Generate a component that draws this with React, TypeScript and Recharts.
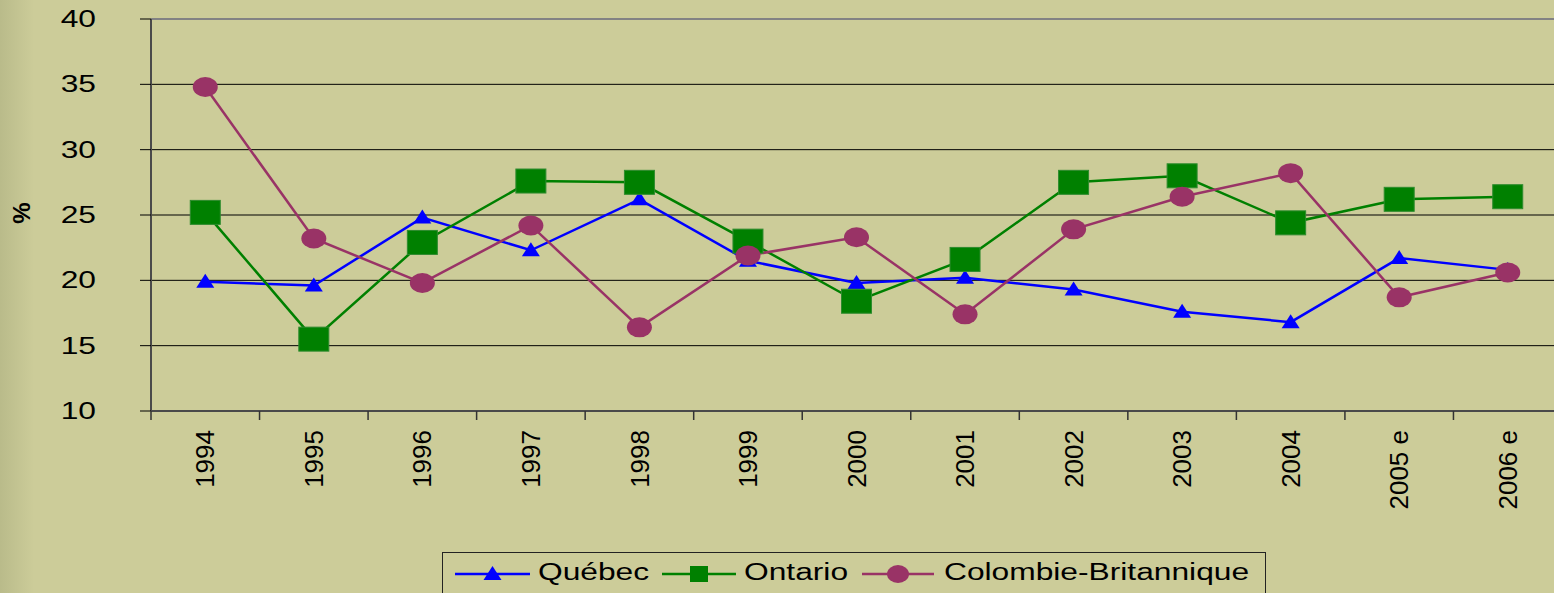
import React from "react";
import {
  LineChart,
  Line,
  XAxis,
  YAxis,
  CartesianGrid,
  ReferenceLine,
} from "recharts";

const YEARS = ["1994", "1995", "1996", "1997", "1998", "1999", "2000", "2001", "2002", "2003", "2004", "2005 e", "2006 e"];
const QUEBEC = [19.9, 19.6, 24.8, 22.3, 26.2, 21.5, 19.8, 20.2, 19.3, 17.6, 16.8, 21.7, 20.8];
const ONTARIO = [25.2, 15.5, 22.9, 27.6, 27.5, 23.0, 18.4, 21.6, 27.5, 28.0, 24.4, 26.2, 26.4];
const COLOMBIE = [34.8, 23.2, 19.8, 24.2, 16.4, 21.9, 23.3, 17.4, 23.9, 26.4, 28.2, 18.7, 20.6];
const Y_TICKS = [10, 15, 20, 25, 30, 35, 40];

const COLOURS = {
  quebec: "#0000FF",
  ontario: "#008000",
  colombie: "#993366",
};

const FONT = '"Liberation Sans", Arial, sans-serif';
const BG = "#CCCC99";

// layout of the (slightly cropped) original slide
const W = 1562;
const H = 593;
const YAXIS_W = 151;
const TOP = 19;
const PLOT_H = 392;
const XAXIS_H = H - TOP - PLOT_H;
const BAND = (W - YAXIS_W) / YEARS.length;
const STRETCH = 1.38; // the slide text is stretched sideways

const rows = YEARS.map((year, i) => ({
  year,
  quebec: QUEBEC[i],
  ontario: ONTARIO[i],
  colombie: COLOMBIE[i],
}));

function Triangle({ cx, cy, fill }: { cx: number; cy: number; fill: string }) {
  return <polygon points={`${cx},${cy - 8} ${cx - 9},${cy + 6} ${cx + 9},${cy + 6}`} fill={fill} />;
}

function Square({ cx, cy, fill }: { cx: number; cy: number; fill: string }) {
  return <rect x={cx - 15} y={cy - 12} width={30} height={24} fill={fill} stroke="#2e8b2e" strokeWidth={1} />;
}

function Ellipse({ cx, cy, fill }: { cx: number; cy: number; fill: string }) {
  return <ellipse cx={cx} cy={cy} rx={12.5} ry={10} fill={fill} />;
}

const triDot = (p: any) => <Triangle key={`q${p.index}`} cx={p.cx} cy={p.cy} fill={COLOURS.quebec} />;
const sqDot = (p: any) => <Square key={`o${p.index}`} cx={p.cx} cy={p.cy} fill={COLOURS.ontario} />;
const ellDot = (p: any) => <Ellipse key={`c${p.index}`} cx={p.cx} cy={p.cy} fill={COLOURS.colombie} />;

function YTick(props: any) {
  const { x, y, payload } = props;
  return (
    <g transform={`translate(${x},${y})`}>
      <text transform={`scale(${STRETCH},1)`} textAnchor="end" dy="0.35em" fontSize={23} fontFamily={FONT} fill="#000">
        {payload.value}
      </text>
    </g>
  );
}

function XTick(props: any) {
  const { x, y, payload } = props;
  const left = x - BAND / 2;
  return (
    <g>
      <line x1={left} y1={y} x2={left} y2={y + 9} stroke="#333" strokeWidth={1.5} />
      <text
        transform={`translate(${x},${y + 19}) rotate(-90)`}
        textAnchor="end"
        dy="0.35em"
        fontSize={26}
        fontFamily={FONT}
        fill="#000"
      >
        {payload.value}
      </text>
    </g>
  );
}

const PctLabel = () => (
  <text
    transform="translate(22,213) rotate(-90)"
    textAnchor="middle"
    dy="0.35em"
    fontSize={24}
    fontWeight="bold"
    fontFamily={FONT}
    fill="#000"
  >
    %
  </text>
);

const LEGEND = [
  { name: "Québec", colour: COLOURS.quebec, x1: 12, x2: 87, mark: "tri", text: 95 },
  { name: "Ontario", colour: COLOURS.ontario, x1: 219, x2: 293, mark: "sq", text: 301 },
  { name: "Colombie-Britannique", colour: COLOURS.colombie, x1: 419, x2: 491, mark: "ell", text: 501 },
];

function LegendBox() {
  return (
    <div
      style={{
        position: "absolute",
        left: 442,
        top: 552,
        width: 824,
        height: 50,
        border: "1.5px solid #222",
        boxSizing: "border-box",
      }}
    >
      <svg width={824} height={50} style={{ display: "block" }}>
        {LEGEND.map((l) => {
          const cx = (l.x1 + l.x2) / 2;
          return (
            <g key={l.name}>
              <line x1={l.x1} y1={21} x2={l.x2} y2={21} stroke={l.colour} strokeWidth={2.5} />
              {l.mark === "tri" && <Triangle cx={cx} cy={21} fill={l.colour} />}
              {l.mark === "sq" && <rect x={cx - 9} y={13} width={18} height={16} fill={l.colour} />}
              {l.mark === "ell" && <ellipse cx={cx} cy={21} rx={11} ry={9} fill={l.colour} />}
              <text
                transform={`translate(${l.text},27) scale(${STRETCH},1)`}
                fontSize={23}
                fontFamily={FONT}
                fill="#000"
              >
                {l.name}
              </text>
            </g>
          );
        })}
      </svg>
    </div>
  );
}

export default function App() {
  return (
    <div
      style={{
        position: "absolute",
        left: 0,
        top: 0,
        width: 1554,
        height: H,
        overflow: "hidden",
        background: BG,
        fontFamily: FONT,
      }}
    >
      <div
        style={{
          position: "absolute",
          left: 0,
          top: 0,
          width: 34,
          height: H,
          background: "linear-gradient(to right, rgba(150,155,110,0.35), rgba(204,204,153,0))",
        }}
      />
      <LineChart width={W} height={H} data={rows} margin={{ top: TOP, right: 0, bottom: 0, left: 0 }}>
        <CartesianGrid vertical={false} stroke="#000" strokeWidth={1} />
        <ReferenceLine y={40} stroke="#8c8c96" strokeWidth={1.5} />
        <XAxis
          dataKey="year"
          scale="band"
          height={XAXIS_H}
          interval={0}
          tickLine={false}
          tickSize={0}
          tickMargin={0}
          axisLine={{ stroke: "#4a4a4a", strokeWidth: 2 }}
          tick={<XTick />}
        />
        <YAxis
          domain={[10, 40]}
          ticks={Y_TICKS}
          width={YAXIS_W}
          interval={0}
          tickSize={11}
          tickMargin={44}
          tickLine={{ stroke: "#000" }}
          axisLine={{ stroke: "#4a4a4a", strokeWidth: 2 }}
          tick={<YTick />}
          label={{ value: "%", content: PctLabel }}
        />
        <Line
          dataKey="quebec"
          name="Québec"
          type="linear"
          stroke={COLOURS.quebec}
          strokeWidth={2.5}
          dot={triDot}
          activeDot={false}
          isAnimationActive={false}
        />
        <Line
          dataKey="ontario"
          name="Ontario"
          type="linear"
          stroke={COLOURS.ontario}
          strokeWidth={2.5}
          dot={sqDot}
          activeDot={false}
          isAnimationActive={false}
        />
        <Line
          dataKey="colombie"
          name="Colombie-Britannique"
          type="linear"
          stroke={COLOURS.colombie}
          strokeWidth={2.5}
          dot={ellDot}
          activeDot={false}
          isAnimationActive={false}
        />
      </LineChart>
      <LegendBox />
    </div>
  );
}
